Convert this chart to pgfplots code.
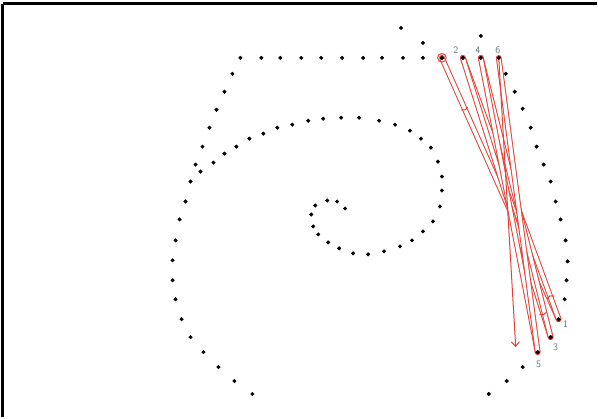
\documentclass[border=0pt]{standalone}
\usepackage{pgfplots}
\pgfplotsset{compat=1.18}
\usetikzlibrary{decorations.markings,arrows.meta}
\definecolor{lred}{RGB}{228,66,56}
\definecolor{lgray}{RGB}{105,115,125}
\tikzset{
  seg/.style={draw=lred, line width=1bp, double=white, double distance=3.7bp, line cap=round},
  arrowat/.style={draw=none, postaction={decorate}, decoration={markings, mark=at position #1 with {\draw[lred, line width=1bp, line cap=round] (-4.6bp,3.5bp) -- (0,0) -- (-4.6bp,-3.5bp);}}}
}
\begin{document}
\begin{tikzpicture}
\begin{axis}[
  scale only axis, width=595bp, height=414bp,
  xmin=3, xmax=598, ymin=0, ymax=414,
  axis x line*=top, axis y line*=left,
  axis line style={line width=3bp, black},
  axis on top,
  ticks=none, clip=false,
]
\path (axis cs:0,0) rectangle (axis cs:598,418);
\fill[white, overlay] (axis cs:-10,-10) rectangle (axis cs:615,430);
% dots
\addplot[only marks, mark=*, mark size=1.8bp, black] coordinates {
(241,360) (262,360) (281,360) (302,360) (322,360) (343,360) (364,360) (383,360) (404,360) (424,360)
(424,375) (402,390) (482,382)
(443,360) (464,360) (482,360) (500,360)
(507,344) (516,326) (524,309) (532,290) (538,271) (545,253) (552,236) (557,216) (562,198) (567,177)
(569,156) (568,137) (566,118) (560,98) (552,80) (539,65) (524,50) (508,36) (490,23)
(233,344) (225,326) (217,308) (210,290) (203,271) (196,253) (191,236) (186,216) (180,198) (176,177)
(173,157) (173,137) (176,118) (182,98) (191,80) (204,65) (219,50) (235,36) (253,23)
(201,246) (214,255) (225,264) (237,271) (250,279) (264,284) (278,290) (293,293) (309,297) (324,299)
(342,300) (360,300) (380,297) (396,293) (411,287) (422,279) (432,270) (439,256) (443,241) (443,227)
(441,211) (434,196) (424,186) (413,177) (401,171) (385,166) (369,163) (354,164) (340,169) (329,175)
(319,183) (314,191) (312,203) (316,212) (328,217) (338,216) (346,209)
};
% red tube segments
\addplot[seg] coordinates {(443,360) (560,98)};
\addplot[seg] coordinates {(560,98) (464,360)};
\addplot[seg] coordinates {(464,360) (552,80)};
\addplot[seg] coordinates {(552,80) (482,360)};
\addplot[seg] coordinates {(482,360) (539,65)};
\addplot[seg] coordinates {(539,65) (500,360)};
\addplot[lred, line width=1bp, -{Straight Barb[length=4.6bp,width=8bp]}] coordinates {(500,360) (517,70)};
% direction arrows
\addplot[arrowat=0.21] coordinates {(443,360) (560,98)};
\addplot[arrowat=0.10] coordinates {(560,98) (464,360)};
\addplot[arrowat=0.93] coordinates {(464,360) (552,80)};
% start circle
\addplot[only marks, mark=o, mark size=4.3bp, lred, mark options={line width=1bp}] coordinates {(443,360)};
\addplot[only marks, mark=*, mark size=1.8bp, black] coordinates {(443,360) (560,98) (552,80) (539,65) (464,360) (482,360) (500,360)};
% labels
\begin{scope}[every node/.style={font=\fontsize{10}{11}\sffamily, text=lgray, inner sep=0pt}]
\node at (axis cs:457,368) {2};
\node at (axis cs:479,368) {4};
\node at (axis cs:499,368) {6};
\node at (axis cs:567,93) {1};
\node at (axis cs:557,70) {3};
\node at (axis cs:540,53) {5};
\end{scope}
\end{axis}
\end{tikzpicture}
\end{document}
